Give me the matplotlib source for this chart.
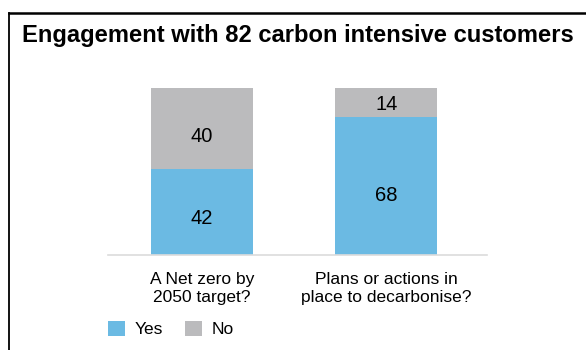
import matplotlib
matplotlib.use("Agg")
import matplotlib.pyplot as plt
from matplotlib.patches import Patch
from matplotlib.lines import Line2D

# data
categories = ["A Net zero by\n2050 target?", "Plans or actions in\nplace to decarbonise?"]
yes_vals = [42, 68]
no_vals = [40, 14]
series_names = ["Yes", "No"]
colors = ["#6bbae3", "#bbbbbd"]
title = "Engagement with 82 carbon intensive customers"

plt.rcParams['font.family'] = ['Liberation Sans', 'DejaVu Sans']

fig = plt.figure(figsize=(5.86, 3.5), dpi=100)
ax = fig.add_axes([108 / 586, 95 / 350, 379 / 586, 167 / 350])

x = list(range(len(categories)))
w = 0.553
ax.bar(x, yes_vals, width=w, color=colors[0], label=series_names[0])
ax.bar(x, no_vals, width=w, bottom=yes_vals, color=colors[1], label=series_names[1])

# value labels sit a little below the middle of each segment
for i in x:
    ax.text(i, yes_vals[i] * 0.43, str(yes_vals[i]), ha='center', va='center', fontsize=14.5)
    ax.text(i, yes_vals[i] + no_vals[i] * 0.41, str(no_vals[i]), ha='center', va='center', fontsize=14.5)

ax.set_xlim(-0.51, 1.545)
ax.set_ylim(0, 82)
ax.set_xticks(x)
ax.set_xticklabels(categories, fontsize=12.5, linespacing=1.3)
ax.tick_params(axis='x', length=0, pad=12)
ax.set_yticks([])
for s in ['top', 'left', 'right']:
    ax.spines[s].set_visible(False)
ax.spines['bottom'].set_color('#dcdcdc')
ax.spines['bottom'].set_linewidth(1.2)

# legend
handles = [Patch(facecolor=c, edgecolor='none') for c in colors]
fig.legend(handles, series_names, loc='center left', bbox_to_anchor=(92 / 586, 1 - 329 / 350),
           ncol=2, frameon=False, fontsize=12.5, handlelength=1.0, handleheight=1.0,
           handletextpad=0.55, columnspacing=1.25)

# title and frame
fig.text(22 / 586, 1 - 42 / 350, title, fontsize=17.1, fontweight='bold', va='baseline')
fig.add_artist(Line2D([9 / 586, 1], [1 - 13 / 350, 1 - 13 / 350], color='black', lw=1.8,
                      transform=fig.transFigure))
fig.add_artist(Line2D([9 / 586, 9 / 586], [0, 1 - 13 / 350], color='black', lw=1.3,
                      transform=fig.transFigure))

fig.savefig("out.png", dpi=100)
